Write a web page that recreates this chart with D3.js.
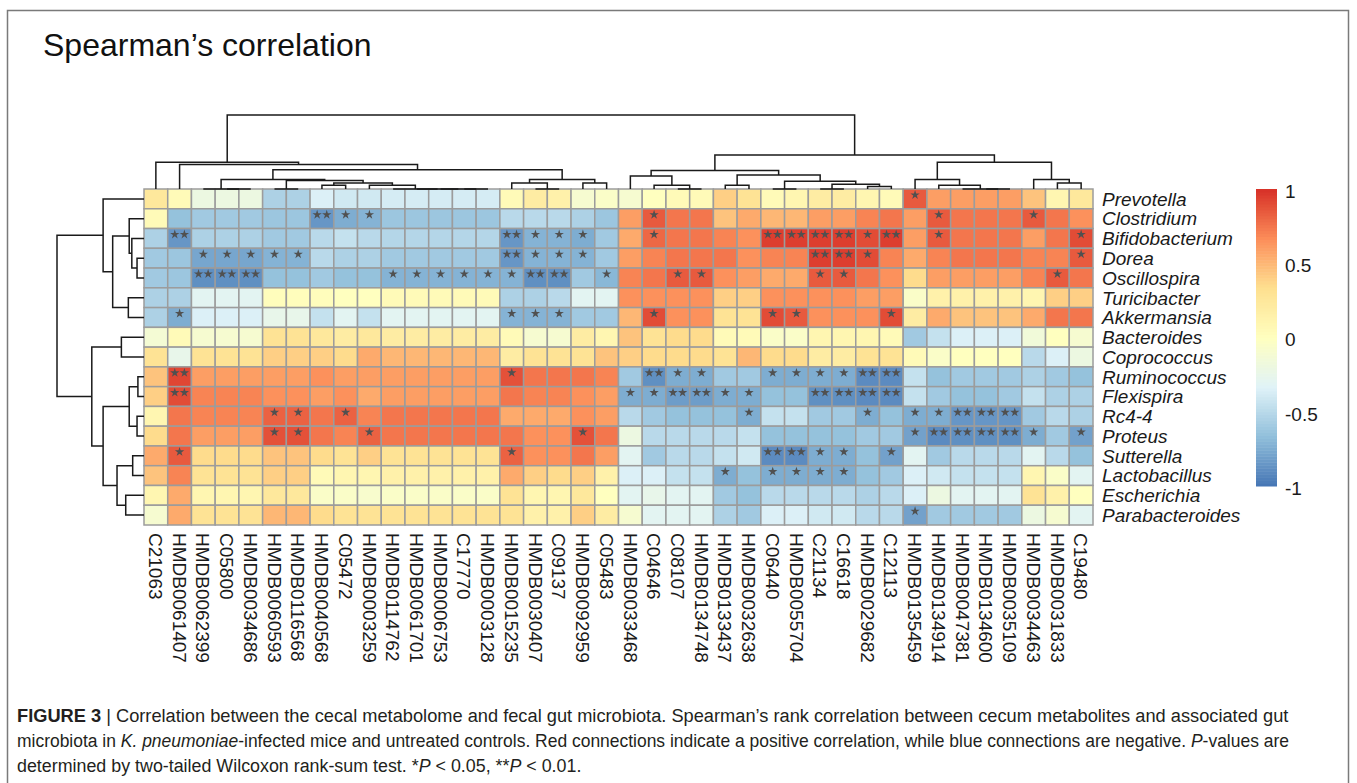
<!DOCTYPE html>
<html>
<head>
<meta charset="utf-8">
<script src="https://cdn.jsdelivr.net/npm/d3@7/dist/d3.min.js"></script>
<style>
  body { margin: 0; background: #fff; }
  svg { display: block; font-family: "Liberation Sans", Arial, sans-serif; }
</style>
</head>
<body>
<div id="chart"></div>
<script>
var rowLabels = ["Prevotella", "Clostridium", "Bifidobacterium", "Dorea", "Oscillospira",
  "Turicibacter", "Akkermansia", "Bacteroides", "Coprococcus", "Ruminococcus", "Flexispira",
  "Rc4-4", "Proteus", "Sutterella", "Lactobacillus", "Escherichia", "Parabacteroides"];

var colLabels = ["C21063", "HMDB0061407", "HMDB0062399", "C05800", "HMDB0034686", "HMDB0060593",
  "HMDB0116568", "HMDB0040568", "C05472", "HMDB0003259", "HMDB0114762", "HMDB0061701",
  "HMDB0006753", "C17770", "HMDB0003128", "HMDB0015235", "HMDB0030407", "C09137",
  "HMDB0092959", "C05483", "HMDB0033468", "C04646", "C08107", "HMDB0134748", "HMDB0133437",
  "HMDB0032638", "C06440", "HMDB0055704", "C21134", "C16618", "HMDB0029682", "C12113",
  "HMDB0135459", "HMDB0134914", "HMDB0047381", "HMDB0134600", "HMDB0035109", "HMDB0034463",
  "HMDB0031833", "C19480"];

// spearman rho, one row per genus (40 metabolites each)
var rho = [
  [0.25,0.05,-0.2,-0.2,-0.2,-0.55,-0.55,-0.35,-0.4,-0.4, -0.38,-0.38,-0.38,-0.38,-0.38,0.05,0.2,0.15,-0.1,-0.05, -0.1,0.0,0.05,0.05,0.4,0.3,0.05,0.1,0.2,0.2, 0.1,0.05,0.85,0.6,0.6,0.6,0.6,0.45,0.1,0.25],
  [0.05,-0.65,-0.6,-0.6,-0.6,-0.62,-0.62,-0.85,-0.75,-0.72, -0.62,-0.62,-0.62,-0.62,-0.62,-0.5,-0.5,-0.5,-0.55,-0.62, 0.6,0.85,0.75,0.75,0.45,0.55,0.5,0.5,0.6,0.6, 0.7,0.75,0.6,0.85,0.75,0.75,0.75,0.85,0.75,0.65],
  [-0.55,-0.85,-0.55,-0.55,-0.55,-0.6,-0.6,-0.5,-0.45,-0.5, -0.52,-0.52,-0.52,-0.52,-0.52,-0.85,-0.72,-0.72,-0.75,-0.6, 0.55,0.8,0.75,0.75,0.7,0.65,0.95,0.95,0.95,0.95, 0.9,0.95,0.6,0.85,0.75,0.75,0.75,0.6,0.75,0.9],
  [-0.6,-0.62,-0.78,-0.78,-0.78,-0.72,-0.72,-0.5,-0.55,-0.55, -0.6,-0.6,-0.6,-0.6,-0.6,-0.85,-0.72,-0.72,-0.72,-0.6, 0.6,0.7,0.75,0.75,0.75,0.65,0.7,0.7,0.95,0.95, 0.9,0.7,0.55,0.7,0.75,0.75,0.75,0.7,0.7,0.85],
  [-0.6,-0.62,-0.88,-0.88,-0.88,-0.65,-0.65,-0.6,-0.65,-0.65, -0.72,-0.72,-0.72,-0.72,-0.72,-0.72,-0.88,-0.88,-0.6,-0.7, 0.7,0.75,0.85,0.85,0.65,0.6,0.55,0.55,0.85,0.85, 0.75,0.65,0.35,0.6,0.6,0.6,0.6,0.7,0.85,0.75],
  [-0.55,-0.55,-0.3,-0.3,-0.3,0.02,0.02,0.02,0.0,0.0, 0.05,0.05,0.05,0.05,0.05,-0.55,-0.55,-0.5,-0.3,-0.3, 0.65,0.65,0.65,0.65,0.4,0.4,0.65,0.65,0.65,0.65, 0.6,0.6,-0.05,0.15,0.15,0.15,0.15,0.1,0.4,0.4],
  [-0.55,-0.75,-0.35,-0.35,-0.35,-0.25,-0.25,-0.45,-0.3,-0.45, -0.3,-0.3,-0.3,-0.3,-0.3,-0.72,-0.72,-0.72,-0.6,-0.6, 0.5,0.9,0.65,0.65,0.3,0.3,0.9,0.85,0.65,0.65, 0.65,0.9,0.2,0.55,0.45,0.45,0.45,0.55,0.75,0.75],
  [-0.12,0.05,-0.1,-0.1,-0.1,0.3,0.3,0.25,0.2,0.25, 0.2,0.2,0.2,0.2,0.2,0.05,-0.1,-0.1,0.2,0.1, 0.45,0.3,0.35,0.35,0.05,0.05,-0.05,-0.05,0.1,0.1, 0.1,0.05,-0.6,-0.45,-0.35,-0.35,-0.35,-0.15,0.0,-0.1],
  [0.3,-0.25,0.3,0.3,0.3,0.4,0.4,0.4,0.35,0.55, 0.5,0.5,0.5,0.5,0.5,0.2,0.3,0.3,0.3,0.45, 0.4,0.35,0.35,0.35,0.3,0.5,0.35,0.35,0.2,0.2, 0.3,0.3,0.05,-0.05,0.0,0.0,0.0,-0.5,-0.35,-0.2],
  [0.45,0.92,0.6,0.6,0.6,0.6,0.6,0.65,0.6,0.6, 0.6,0.6,0.6,0.6,0.6,0.88,0.75,0.75,0.75,0.7, -0.6,-0.88,-0.75,-0.75,-0.6,-0.6,-0.75,-0.75,-0.75,-0.75, -0.9,-0.9,-0.45,-0.65,-0.6,-0.6,-0.6,-0.55,-0.6,-0.65],
  [0.4,0.9,0.7,0.7,0.7,0.65,0.65,0.6,0.65,0.55, 0.6,0.6,0.6,0.6,0.6,0.75,0.7,0.7,0.65,0.6, -0.75,-0.75,-0.82,-0.82,-0.75,-0.75,-0.65,-0.65,-0.88,-0.88, -0.9,-0.9,-0.45,-0.6,-0.65,-0.65,-0.6,-0.45,-0.55,-0.55],
  [0.1,0.75,0.7,0.7,0.7,0.82,0.82,0.75,0.82,0.7, 0.75,0.75,0.75,0.75,0.75,0.55,0.55,0.55,0.65,0.6, -0.5,-0.6,-0.65,-0.65,-0.65,-0.75,-0.45,-0.45,-0.6,-0.6, -0.75,-0.65,-0.75,-0.75,-0.85,-0.85,-0.85,-0.6,-0.5,-0.55],
  [0.35,0.75,0.6,0.6,0.6,0.88,0.88,0.75,0.7,0.82, 0.75,0.75,0.75,0.75,0.75,0.75,0.65,0.65,0.88,0.75, -0.2,-0.5,-0.5,-0.5,-0.5,-0.45,-0.65,-0.65,-0.65,-0.65, -0.6,-0.6,-0.8,-0.9,-0.88,-0.88,-0.88,-0.75,-0.6,-0.8],
  [0.55,0.85,0.35,0.35,0.35,0.45,0.45,0.35,0.3,0.4, 0.3,0.3,0.3,0.3,0.3,0.82,0.65,0.65,0.75,0.6, -0.3,-0.6,-0.5,-0.5,-0.45,-0.4,-0.9,-0.9,-0.75,-0.75, -0.65,-0.8,-0.3,-0.6,-0.5,-0.5,-0.5,-0.3,-0.5,-0.65],
  [0.45,0.7,0.3,0.3,0.3,0.4,0.4,0.05,0.1,0.1, 0.15,0.15,0.15,0.15,0.15,0.55,0.4,0.35,0.4,0.15, -0.35,-0.35,-0.45,-0.45,-0.75,-0.65,-0.75,-0.75,-0.75,-0.75, -0.65,-0.6,-0.35,-0.4,-0.45,-0.45,-0.45,0.1,-0.05,-0.3],
  [0.1,0.55,0.1,0.1,0.1,0.25,0.25,-0.05,-0.05,-0.08, -0.05,-0.05,-0.05,-0.05,-0.05,0.3,0.1,0.1,0.25,0.0, -0.3,-0.25,-0.3,-0.3,-0.6,-0.65,-0.5,-0.5,-0.5,-0.5, -0.55,-0.5,-0.35,-0.2,-0.3,-0.3,-0.3,0.3,0.15,0.0],
  [-0.1,0.55,0.3,0.3,0.3,0.5,0.5,0.35,0.3,0.3, 0.3,0.3,0.3,0.3,0.3,0.3,0.15,0.15,0.4,0.2, -0.1,-0.3,-0.3,-0.3,-0.55,-0.6,-0.35,-0.35,-0.4,-0.4, -0.5,-0.5,-0.8,-0.6,-0.6,-0.6,-0.6,-0.2,-0.1,-0.3]
];

// 1 = *P < 0.05, 2 = **P < 0.01 (blocks of ten columns)
var signif = [
  "0000000000 0000000000 0000000000 0010000000",
  "0000000211 0000000000 0100000000 0001000100",
  "0200000000 0000021110 0100002222 1201000001",
  "0011111000 0000021110 0000000022 1000000001",
  "0022200000 1111112201 0011000011 0000000010",
  "0000000000 0000000000 0000000000 0000000000",
  "0100000000 0000011100 0100001100 0100000000",
  "0000000000 0000000000 0000000000 0000000000",
  "0000000000 0000000000 0000000000 0000000000",
  "0200000000 0000010000 0211001111 2200000000",
  "0200000000 0000000000 1122110022 2200000000",
  "0000011010 0000000000 0000010000 1011222000",
  "0000011001 0000000010 0000000000 0012222101",
  "0100000000 0000010000 0000002211 0100000000",
  "0000000000 0000000000 0000101111 0000000000",
  "0000000000 0000000000 0000000000 0000000000",
  "0000000000 0000000000 0000000000 0010000000"
];

// dendrograms as [height, left, right]; leaves are row / column indices
var colTree = [1.0,
  [0.36, 0, [0.33, 1, [0.26,
    [0.13, [0, 2, [0, 3, 4]], [0.115, [0, 5, 6], [0.08, [0.05, 7, 8], [0.05, 9, [0, 10, [0, 11, [0, 12, [0, 13, 14]]]]]]]],
    [0.13, [0.08, 15, [0, 16, 17]], [0.08, 18, 19]]]]],
  [0.46,
    [0.25,
      [0.175, 20, [0.05, 21, [0, 22, 23]]],
      [0.19, [0.05, 24, 25], [0.105, [0, 26, 27], [0.065, [0, 28, 29], [0.035, 30, 31]]]]],
    [0.36,
      [0.13, 32, [0.05, 33, [0, 34, [0, 35, 36]]]],
      [0.13, 37, [0.08, 38, 39]]]]];

var rowTree = [1.0,
  [0.47, 0, [0.36, [0.17, 1, [0.14, 2, [0.08, 3, 4]]], [0.18, 5, 6]]],
  [0.60, [0.26, 7, 8],
    [0.47, [0.17, [0.07, 9, 10], [0.08, 11, 12]],
           [0.31, [0.13, 13, 14], [0.21, 15, 16]]]]];

var legendTicks = [1, 0.5, 0, -0.5, -1];

var W = 1357, H = 783;
var svg = d3.select("#chart").append("svg").attr("width", W).attr("height", H);

// outer frame of the figure panel
svg.append("rect").attr("x", 7.5).attr("y", 10.5).attr("width", 1341).attr("height", 800)
  .attr("fill", "none").attr("stroke", "#7a7a7a").attr("stroke-width", 1.5);

svg.append("text").attr("x", 43).attr("y", 56).attr("font-size", 32).attr("fill", "#111")
  .text("Spearman\u2019s correlation");

var x = d3.scaleBand().domain(d3.range(colLabels.length)).range([144, 1093]);
var y = d3.scaleBand().domain(d3.range(rowLabels.length)).range([189, 525]);

var color = d3.scaleLinear()
  .domain([-1, -2 / 3, -1 / 3, 0, 1 / 3, 2 / 3, 1])
  .range(["#4575B4", "#91BFDB", "#E0F3F8", "#FFFFBF", "#FEE090", "#FC8D59", "#D73027"]);

var cells = [];
rho.forEach(function(row, i) {
  var s = signif[i].replace(/ /g, "");
  row.forEach(function(v, j) {
    cells.push({ r: i, c: j, v: v, n: +s[j] });
  });
});

var heat = svg.append("g");
heat.selectAll("rect").data(cells).enter().append("rect")
  .attr("x", function(d) { return x(d.c); })
  .attr("y", function(d) { return y(d.r); })
  .attr("width", x.bandwidth())
  .attr("height", y.bandwidth())
  .attr("fill", function(d) { return color(d.v); })
  .attr("stroke", "#9c9c9c")
  .attr("stroke-width", 1.5);

// significance stars
var star = d3.symbol().type(d3.symbolStar).size(27);
var starPts = [];
cells.forEach(function(d) {
  for (var k = 0; k < d.n; k++) {
    var off = d.n === 2 ? (k === 0 ? -4.8 : 4.8) : 0;
    starPts.push({ x: x(d.c) + x.bandwidth() / 2 + off, y: y(d.r) + y.bandwidth() * 0.3 });
  }
});
heat.selectAll("path.star").data(starPts).enter().append("path")
  .attr("class", "star")
  .attr("d", star)
  .attr("transform", function(d) { return "translate(" + d.x + "," + d.y + ")"; })
  .attr("fill", "#505050");

// dendrograms
function drawTree(g, tree, leafPos, hs, horizontal) {
  function walk(node) {
    if (typeof node === "number") return [leafPos(node), 0];
    var a = walk(node[1]), b = walk(node[2]), h = node[0];
    var p;
    if (horizontal) {
      p = "M" + hs(a[1]) + "," + a[0] + "H" + hs(h) + "V" + b[0] + "H" + hs(b[1]);
    } else {
      p = "M" + a[0] + "," + hs(a[1]) + "V" + hs(h) + "H" + b[0] + "V" + hs(b[1]);
    }
    g.append("path").attr("d", p);
    return [(a[0] + b[0]) / 2, h];
  }
  walk(tree);
}

var colDendro = svg.append("g").attr("fill", "none").attr("stroke", "#1a1a1a").attr("stroke-width", 1.5);
drawTree(colDendro, colTree, function(i) { return x(i) + x.bandwidth() / 2; },
  d3.scaleLinear().domain([0, 1]).range([189, 115]), false);

var rowDendro = svg.append("g").attr("fill", "none").attr("stroke", "#1a1a1a").attr("stroke-width", 1.5);
drawTree(rowDendro, rowTree, function(i) { return y(i) + y.bandwidth() / 2; },
  d3.scaleLinear().domain([0, 1]).range([144, 57]), true);

// labels
svg.append("g").selectAll("text").data(rowLabels).enter().append("text")
  .attr("x", 1102)
  .attr("y", function(d, i) { return y(i) + y.bandwidth() / 2; })
  .attr("dy", "0.36em")
  .attr("font-size", 19)
  .attr("font-style", "italic")
  .attr("fill", "#1a1a1a")
  .text(function(d) { return d; });

svg.append("g").selectAll("text").data(colLabels).enter().append("text")
  .attr("transform", function(d, i) {
    return "translate(" + (x(i) + x.bandwidth() / 2) + ",533) rotate(90)";
  })
  .attr("dy", "0.36em")
  .attr("font-size", 19)
  .attr("fill", "#1a1a1a")
  .text(function(d) { return d; });

// colour key
var ly = d3.scaleLinear().domain([-1, 1]).range([486, 189]);
var steps = d3.range(100).map(function(i) { return -1 + i * 0.02; });
var legend = svg.append("g");
legend.selectAll("rect").data(steps).enter().append("rect")
  .attr("x", 1256)
  .attr("width", 21)
  .attr("y", function(d) { return ly(d + 0.02); })
  .attr("height", function(d) { return ly(d) - ly(d + 0.02) + 0.5; })
  .attr("fill", function(d) { return color(d + 0.01); });

legend.selectAll("text").data(legendTicks).enter().append("text")
  .attr("x", 1285)
  .attr("y", function(d) { return ly(d) + 2; })
  .attr("dy", "0.36em")
  .attr("font-size", 19)
  .attr("fill", "#1a1a1a")
  .text(function(d) { return d; });

// caption
var caption = svg.append("g").attr("fill", "#231f20").attr("font-size", 16);
var l1 = caption.append("text").attr("x", 17).attr("y", 722);
l1.append("tspan").attr("font-weight", "bold").text("FIGURE 3");
l1.append("tspan").text(" | Correlation between the cecal metabolome and fecal gut microbiota. Spearman\u2019s rank correlation between cecum metabolites and associated gut");

var l2 = caption.append("text").attr("x", 17).attr("y", 747);
l2.append("tspan").text("microbiota in ");
l2.append("tspan").attr("font-style", "italic").text("K. pneumoniae");
l2.append("tspan").text("-infected mice and untreated controls. Red connections indicate a positive correlation, while blue connections are negative. ");
l2.append("tspan").attr("font-style", "italic").text("P");
l2.append("tspan").text("-values are");

var l3 = caption.append("text").attr("x", 17).attr("y", 772);
l3.append("tspan").text("determined by two-tailed Wilcoxon rank-sum test. *");
l3.append("tspan").attr("font-style", "italic").text("P");
l3.append("tspan").text(" < 0.05, **");
l3.append("tspan").attr("font-style", "italic").text("P");
l3.append("tspan").text(" < 0.01.");

// fit each caption line to the reference line lengths
var fs1 = 16 * 1272 / l1.node().getComputedTextLength();
var fs2 = 16 * 1273 / l2.node().getComputedTextLength();
l1.attr("font-size", fs1);
l2.attr("font-size", fs2);
l3.attr("font-size", (fs1 + fs2) / 2);
</script>
</body>
</html>
